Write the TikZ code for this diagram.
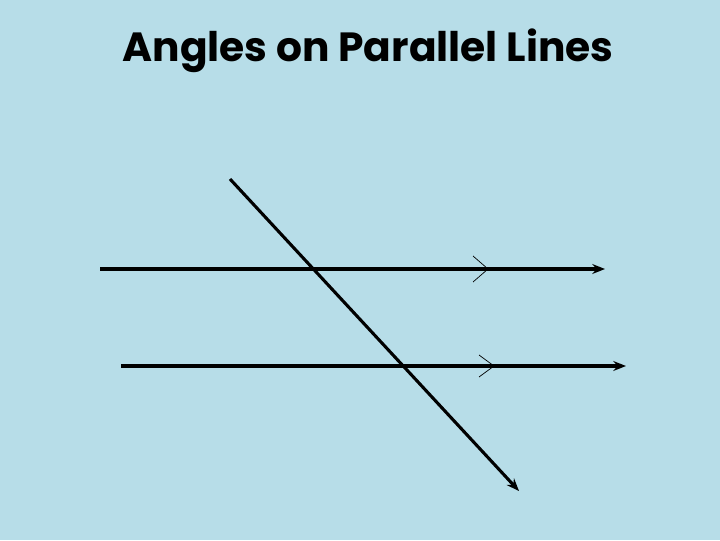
\documentclass[tikz,border=0pt]{standalone}
\usepackage{fontspec}
\setmainfont{Poppins}
\usepackage{tikz}
\usetikzlibrary{arrows.meta}
\definecolor{slidebg}{RGB}{183,221,232}

\begin{document}
\begin{tikzpicture}[x=0.025cm,y=-0.025cm]
\fill [slidebg] (0,0) rectangle (720,540);
\useasboundingbox (0,0) rectangle (720,540);
\node (title) at (368,51) {\fontsize{29}{32}\selectfont\bfseries Angles on Parallel Lines};
\coordinate (a1) at (100,269);
\coordinate (a2) at (605,269);
\coordinate (b1) at (121,366);
\coordinate (b2) at (626,366);
\coordinate (t1) at (230,179);
\coordinate (t2) at (519,491);
\draw [line width=2.2pt,-{Stealth[length=9pt,width=7pt]}] (a1) -- (a2);
\draw [line width=2.2pt,-{Stealth[length=9pt,width=7pt]}] (b1) -- (b2);
\draw [line width=2.2pt,-{Stealth[length=9pt,width=7pt]}] (t1) -- (t2);
% parallel marks
\coordinate (p1) at (488,269);
\coordinate (q1) at (494,366);
\draw [line width=0.5pt] (473,256) -- (p1) -- (473,282);
\draw [line width=0.5pt] (479,355) -- (q1) -- (479,377);
\end{tikzpicture}
\end{document}
